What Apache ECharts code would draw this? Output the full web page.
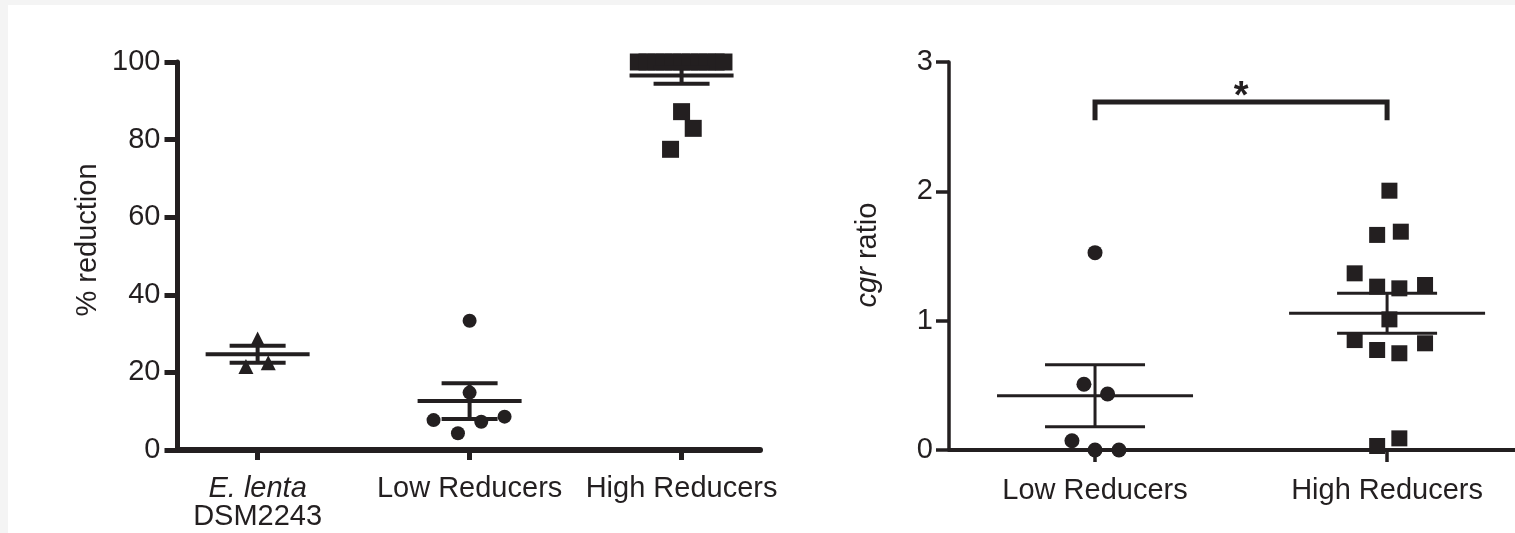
<!DOCTYPE html>
<html>
<head>
<meta charset="utf-8">
<script src="https://cdn.jsdelivr.net/npm/echarts@6/dist/echarts.min.js"></script>
<style>
  html, body { margin: 0; padding: 0; background: #fff; }
  #chart { width: 1515px; height: 533px; }
</style>
</head>
<body>
<div id="chart"></div>
<script>
// ---- left panel: % reduction ----
const leftCategories = ['E. lenta', 'Low Reducers', 'High Reducers'];
const elentaX = [0, -0.055, 0.05];
const elentaY = [28.6, 21.5, 22.5];
const lowX = [0, 0, -0.17, 0.055, 0.165, -0.055];
const lowY = [33.3, 14.8, 7.7, 7.3, 8.6, 4.3];
const highX = [-0.204, -0.163, -0.122, -0.082, -0.041, 0, 0.041, 0.082, 0.122, 0.163, 0.2, 0, 0.055, -0.052];
const highY = [100, 100, 100, 100, 100, 100, 100, 100, 100, 100, 100, 87.2, 82.9, 77.5];
const leftMeans = [24.7, 12.6, 96.5];
const leftSems = [2.2, 4.6, 2.1];

// ---- right panel: cgr ratio ----
const rightCategories = ['Low Reducers', 'High Reducers'];
const rLowX = [0, -0.038, 0.043, -0.079, 0, 0.082];
const rLowY = [1.526, 0.508, 0.433, 0.072, 0, 0];
const rHighX = [0.008, -0.034, 0.047, -0.111, -0.034, 0.042, 0.13, 0.008, -0.111, -0.034, 0.042, 0.13, -0.034, 0.042];
const rHighY = [2.005, 1.663, 1.688, 1.366, 1.263, 1.25, 1.276, 1.01, 0.85, 0.773, 0.748, 0.825, 0.031, 0.09];
const rightMeans = [0.42, 1.057];
const rightSems = [0.24, 0.155];
// significance bracket: [fromCat, toCat, top, legEnd]
const bracket = [[0, 1, 2.69, 2.55]];

const INK = '#231f20';
const FONT = 'Liberation Sans, Arial, Helvetica, sans-serif';
const FS = 29;

function zip(xs, ys, off) {
  return xs.map((x, i) => [off + x, ys[i]]);
}

function errBar(hw, cw, lw) {
  return function (params, api) {
    const x = api.value(0), m = api.value(1), s = api.value(2);
    const c = api.coord([x, m]);
    const t = api.coord([x, m + s]);
    const b = api.coord([x, m - s]);
    const st = { stroke: INK, lineWidth: lw };
    return {
      type: 'group',
      children: [
        { type: 'line', shape: { x1: c[0] - hw, y1: c[1], x2: c[0] + hw, y2: c[1] }, style: st },
        { type: 'line', shape: { x1: t[0], y1: t[1], x2: b[0], y2: b[1] }, style: st },
        { type: 'line', shape: { x1: t[0] - cw, y1: t[1], x2: t[0] + cw, y2: t[1] }, style: st },
        { type: 'line', shape: { x1: b[0] - cw, y1: b[1], x2: b[0] + cw, y2: b[1] }, style: st }
      ]
    };
  };
}

const dot = { color: INK, opacity: 1 };

const myChart = echarts.init(document.getElementById('chart'));

const option = {
  animation: false,
  backgroundColor: '#fff',
  textStyle: { fontFamily: FONT, color: INK },
  grid: [
    { left: 177.5, width: 582.5, top: 62, height: 388 },
    { left: 949, right: 0, top: 62, height: 388 }
  ],
  xAxis: [
    {
      type: 'value', gridIndex: 0, min: -0.378, max: 2.37,
      splitLine: { show: false },
      axisLine: { lineStyle: { color: INK, width: 6 } },
      axisTick: { customValues: [0, 1, 2], length: 10, lineStyle: { color: INK, width: 5 } },
      axisLabel: {
        customValues: [0, 1, 2], margin: 25, fontSize: FS, color: INK, lineHeight: 28,
        formatter: function (v) {
          const i = Math.round(v);
          if (i === 0) return '{i|' + leftCategories[0] + '}\n{n|DSM2243}';
          return leftCategories[i];
        },
        rich: {
          i: { fontStyle: 'italic', fontSize: FS, color: INK, lineHeight: 28 },
          n: { fontSize: FS, color: INK, lineHeight: 28 }
        }
      }
    },
    {
      type: 'value', gridIndex: 1, min: -0.5, max: 1.438,
      splitLine: { show: false },
      axisLine: { lineStyle: { color: INK, width: 4 } },
      axisTick: { customValues: [0, 1], length: 12, lineStyle: { color: INK, width: 3.5 } },
      axisLabel: {
        customValues: [0, 1], margin: 26, fontSize: FS, color: INK,
        formatter: v => rightCategories[Math.round(v)]
      }
    }
  ],
  yAxis: [
    {
      type: 'value', gridIndex: 0, min: 0, max: 100, interval: 20,
      splitLine: { show: false },
      axisLine: { show: true, onZero: false, lineStyle: { color: INK, width: 5 } },
      axisTick: { show: true, length: 13, lineStyle: { color: INK, width: 5 } },
      axisLabel: { margin: 17, fontSize: FS, color: INK }
    },
    {
      type: 'value', gridIndex: 1, min: 0, max: 3, interval: 1,
      splitLine: { show: false },
      axisLine: { show: true, onZero: false, lineStyle: { color: INK, width: 3.5 } },
      axisTick: { show: true, length: 13, lineStyle: { color: INK, width: 3.5 } },
      axisLabel: { margin: 16, fontSize: FS, color: INK }
    }
  ],
  graphic: [
    { type: 'rect', shape: { x: 0, y: 0, width: 8, height: 533 }, style: { fill: '#f4f4f4' }, silent: true },
    { type: 'rect', shape: { x: 0, y: 0, width: 1515, height: 5 }, style: { fill: '#f4f4f4' }, silent: true },
    {
      type: 'text', x: 88, y: 240, rotation: Math.PI / 2,
      style: { text: '% reduction', font: FS + 'px ' + FONT, fill: INK, textAlign: 'center', textVerticalAlign: 'middle' }
    },
    {
      type: 'text', x: 868, y: 255, rotation: Math.PI / 2,
      style: {
        text: '{i|cgr} ratio', font: FS + 'px ' + FONT, fill: INK, textAlign: 'center', textVerticalAlign: 'middle',
        rich: { i: { fontStyle: 'italic', fontSize: FS, fill: INK } }
      }
    }
  ],
  series: [
    {
      type: 'scatter', xAxisIndex: 0, yAxisIndex: 0, symbol: 'triangle', symbolSize: 15,
      itemStyle: dot, data: zip(elentaX, elentaY, 0)
    },
    {
      type: 'scatter', xAxisIndex: 0, yAxisIndex: 0, symbol: 'circle', symbolSize: 14,
      itemStyle: dot, data: zip(lowX, lowY, 1)
    },
    {
      type: 'scatter', xAxisIndex: 0, yAxisIndex: 0, symbol: 'rect', symbolSize: 17,
      itemStyle: dot, data: zip(highX, highY, 2)
    },
    {
      type: 'custom', xAxisIndex: 0, yAxisIndex: 0, encode: { x: 0, y: 1 },
      renderItem: errBar(52, 28, 4), z: 3,
      data: leftMeans.map((m, i) => [i, m, leftSems[i]])
    },
    {
      type: 'scatter', xAxisIndex: 1, yAxisIndex: 1, symbol: 'circle', symbolSize: 15,
      itemStyle: dot, data: zip(rLowX, rLowY, 0)
    },
    {
      type: 'scatter', xAxisIndex: 1, yAxisIndex: 1, symbol: 'rect', symbolSize: 16,
      itemStyle: dot, data: zip(rHighX, rHighY, 1)
    },
    {
      type: 'custom', xAxisIndex: 1, yAxisIndex: 1, encode: { x: 0, y: 1 },
      renderItem: errBar(98, 50, 3), z: 3,
      data: rightMeans.map((m, i) => [i, m, rightSems[i]])
    },
    {
      type: 'custom', xAxisIndex: 1, yAxisIndex: 1, encode: { x: [0, 1], y: [2, 3] },
      renderItem: function (params, api) {
        const a = api.coord([api.value(0), api.value(2)]);
        const b = api.coord([api.value(1), api.value(2)]);
        const legY = api.coord([api.value(0), api.value(3)])[1];
        return {
          type: 'group',
          children: [
            {
              type: 'polyline',
              shape: { points: [[a[0], legY], [a[0], a[1]], [b[0], b[1]], [b[0], legY]] },
              style: { stroke: INK, lineWidth: 5, fill: null, lineJoin: 'miter' }
            },
            {
              type: 'text', x: (a[0] + b[0]) / 2, y: a[1] - 5,
              style: { text: '*', font: 'bold 38px ' + FONT, fill: INK, textAlign: 'center', textVerticalAlign: 'middle' }
            }
          ]
        };
      },
      data: bracket
    }
  ]
};

myChart.setOption(option);
</script>
</body>
</html>
